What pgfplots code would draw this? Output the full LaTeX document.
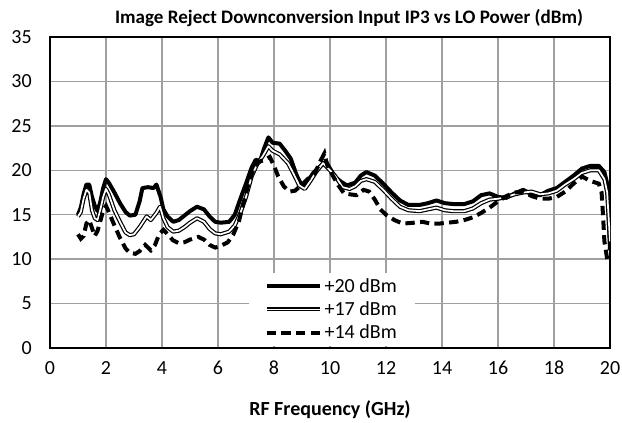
\documentclass[border=0pt]{standalone}
\usepackage{fontspec}
\setmainfont{Carlito}
\usepackage{pgfplots}
\pgfplotsset{compat=1.18}
\definecolor{gridgray}{RGB}{160,160,160}
\pgfplotstableread{
x y
1.0 15.0
1.1 15.8
1.2 17.3
1.3 18.4
1.4 18.4
1.5 17.0
1.6 16.0
1.7 15.4
1.8 16.5
1.9 18.0
2.0 19.0
2.1 18.6
2.3 17.5
2.5 16.3
2.7 15.3
2.85 14.9
3.05 15.0
3.2 16.5
3.3 18.0
3.5 18.1
3.7 18.0
3.8 18.4
3.95 17.0
4.05 15.6
4.2 14.8
4.4 14.2
4.6 14.4
4.8 14.9
5.0 15.4
5.25 15.9
5.5 15.6
5.7 14.8
5.9 14.2
6.1 14.1
6.4 14.2
6.6 15.0
6.8 16.8
7.0 18.5
7.2 20.3
7.35 21.2
7.5 21.0
7.65 22.5
7.8 23.7
7.95 23.1
8.2 23.0
8.4 22.2
8.6 21.3
8.8 19.5
9.0 18.2
9.2 18.7
9.4 19.7
9.6 20.3
9.85 21.0
10.0 20.2
10.2 19.2
10.4 18.7
10.6 18.3
10.9 18.6
11.1 19.4
11.3 19.8
11.6 19.4
11.9 18.5
12.2 17.5
12.5 16.6
12.8 16.1
13.2 16.1
13.5 16.3
13.8 16.6
14.1 16.3
14.4 16.2
14.8 16.2
15.1 16.5
15.4 17.2
15.7 17.4
16.0 17.0
16.3 16.9
16.6 17.4
16.9 17.8
17.2 17.3
17.5 17.2
17.8 17.7
18.1 18.0
18.4 18.7
18.7 19.4
19.0 20.2
19.3 20.5
19.6 20.5
19.8 19.8
19.9 18.5
19.95 15.0
20.0 11.0
}\tabA
\pgfplotstableread{
x y
1.0 14.8
1.1 15.3
1.2 16.8
1.3 17.8
1.4 17.5
1.5 15.5
1.6 14.6
1.7 14.4
1.8 15.6
1.9 17.0
2.0 17.9
2.1 17.3
2.3 15.5
2.5 14.2
2.7 13.0
2.85 12.7
3.0 12.8
3.2 13.6
3.45 14.8
3.6 14.4
3.8 15.2
3.93 15.9
4.05 14.6
4.2 13.6
4.4 13.1
4.6 13.2
4.8 13.6
5.0 14.1
5.25 14.6
5.5 14.2
5.7 13.4
5.9 12.9
6.1 12.8
6.4 13.1
6.6 13.8
6.8 15.2
7.0 17.0
7.2 19.3
7.4 20.7
7.6 21.6
7.8 22.7
7.95 22.2
8.2 21.8
8.5 20.8
8.7 19.6
8.9 18.3
9.1 17.9
9.3 18.8
9.5 19.8
9.75 20.8
10.0 20.0
10.2 19.3
10.45 18.1
10.7 17.9
10.9 18.2
11.1 18.8
11.3 19.0
11.6 18.7
11.9 17.8
12.2 16.8
12.5 15.9
12.8 15.5
13.2 15.4
13.5 15.6
13.8 15.8
14.1 15.5
14.4 15.4
14.8 15.4
15.1 15.7
15.4 16.3
15.7 16.7
16.0 16.8
16.3 17.0
16.6 17.3
16.9 17.5
17.2 17.6
17.5 17.3
17.8 17.4
18.1 17.7
18.4 18.4
18.7 19.0
19.0 19.7
19.3 20.0
19.6 20.0
19.8 19.0
19.9 17.5
20.0 12.0
}\tabB
\pgfplotstableread{
x y
1.0 12.8
1.1 12.3
1.2 12.6
1.3 14.0
1.4 14.4
1.5 13.5
1.6 12.6
1.7 13.2
1.8 14.3
1.9 15.5
2.0 16.0
2.1 15.3
2.3 13.8
2.5 12.4
2.7 11.2
2.85 10.7
3.05 10.6
3.2 10.9
3.4 11.6
3.6 11.0
3.75 11.6
3.9 12.8
4.05 13.3
4.2 12.8
4.4 12.1
4.6 11.8
4.8 11.9
5.0 12.2
5.3 12.5
5.5 12.2
5.7 11.6
5.9 11.3
6.1 11.5
6.35 11.9
6.55 12.8
6.75 14.3
6.9 16.2
7.1 18.6
7.3 20.5
7.5 21.0
7.7 21.2
7.85 21.5
8.0 20.5
8.15 19.3
8.35 18.2
8.55 17.6
8.75 17.7
9.0 18.4
9.2 19.0
9.45 19.6
9.65 21.0
9.8 21.9
9.9 20.6
10.1 19.4
10.3 18.3
10.5 17.4
10.7 17.3
10.95 17.2
11.2 17.8
11.4 17.6
11.6 16.7
11.8 15.6
12.0 15.0
12.3 14.4
12.6 14.0
13.0 14.1
13.3 14.2
13.6 14.0
13.9 14.0
14.2 14.1
14.5 14.2
14.8 14.4
15.1 14.7
15.4 15.2
15.7 15.8
16.0 16.5
16.3 17.1
16.6 17.5
16.9 17.6
17.2 17.1
17.5 16.8
17.8 16.8
18.1 17.0
18.4 17.6
18.7 18.5
19.0 19.3
19.3 18.8
19.6 18.5
19.7 17.5
19.75 15.0
19.8 12.0
19.9 10.0
}\tabC
\begin{document}
\begin{tikzpicture}
\path[use as bounding box] (-37.5pt,-55.5pt) rectangle (429pt,261pt);
\begin{axis}[
  scale only axis, width=420pt, height=233.25pt,
  xmin=0, xmax=20, ymin=0, ymax=35,
  xtick={0,2,...,20}, ytick={0,5,...,35},
  grid=major, major grid style={line width=1pt, color=gridgray},
  axis line style={line width=1.5pt, black},
  major tick length=0pt,
  tick label style={font=\fontsize{15}{18}\selectfont},
  /pgf/number format/assume math mode=true,
  xticklabel style={anchor=center, yshift=-15pt},
  yticklabel style={anchor=east, inner sep=0pt, xshift=-13.5pt},
  title={Image Reject Downconversion Input IP3 vs LO Power (dBm)},
  title style={font=\bfseries\fontsize{14.3}{16}\selectfont, at={(0.534,1)}, anchor=center, yshift=8pt},
  xlabel={RF Frequency (GHz)},
  xlabel style={font=\bfseries\fontsize{15}{17}\selectfont, at={(0.5,0)}, anchor=center, yshift=-46.5pt},
  legend style={draw=none, fill=white, at={(0.354,0.006)}, anchor=south west,
    font=\fontsize{15}{18}\selectfont, inner xsep=12pt, inner ysep=2pt, row sep=1.5pt},
  legend cell align=left,
  legend image code/.code={\draw[#1] (0pt,0pt) -- (40pt,0pt);},
]
\addplot[black, line width=3pt, line join=round] table {\tabA};
\addlegendentry{+20 dBm}
\addplot[black, line width=0.9pt, double=white, double distance=1.3pt, line join=round] table {\tabB};
\addlegendentry{+17 dBm}
\addplot[black, line width=3pt, dash pattern=on 7pt off 4pt] table {\tabC};
\addlegendentry{+14 dBm}
\end{axis}
\end{tikzpicture}
\end{document}
